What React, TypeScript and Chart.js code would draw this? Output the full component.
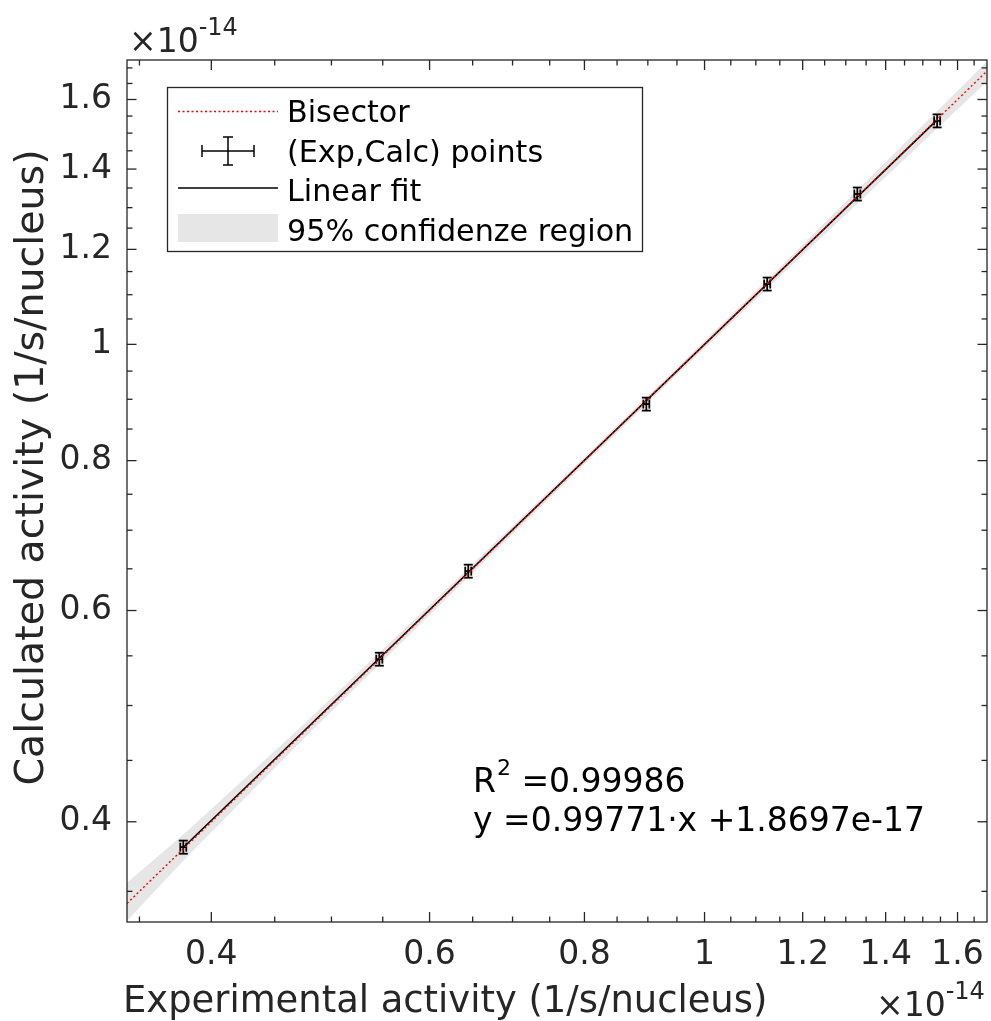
import React, { useEffect, useRef } from 'react';
import { Chart, registerables } from 'chart.js';

Chart.register(...registerables);

// ---- data (units of 1e-14 1/s/nucleus) ----
const xExp = [0.3797, 0.5465, 0.6447, 0.8975, 1.1234, 1.3282, 1.5405];
const yCalc = [0.381, 0.5465, 0.6471, 0.8917, 1.1228, 1.3346, 1.5357];
const xErr = [0.0021, 0.0031, 0.0036, 0.005, 0.0063, 0.0074, 0.0086];
const yErr = [0.0048, 0.0068, 0.0081, 0.0111, 0.014, 0.0167, 0.0192];

const fitX = [0.3797, 1.5405];
const fitY = [0.3807, 1.5388];

const bisX = [0.342, 1.69];
const bisY = [0.342, 1.69];

const bandX = [0.342, 0.38, 0.47, 0.6, 0.7, 0.8, 0.95, 1.15, 1.35, 1.69];
const bandLo = [0.3308, 0.3716, 0.4641, 0.5948, 0.6949, 0.7946, 0.9434, 1.1393, 1.3308, 1.6559];
const bandHi = [0.3559, 0.3906, 0.4776, 0.6063, 0.7057, 0.8054, 0.9561, 1.1592, 1.3671, 1.7207];

const xMajor = [0.4, 0.6, 0.8, 1, 1.2, 1.4, 1.6];
const xMajorLabels = ['0.4', '0.6', '0.8', '1', '1.2', '1.4', '1.6'];
const xMinor = [0.35, 0.45, 0.5, 0.55, 0.65, 0.7, 0.75, 0.85, 0.9, 0.95, 1.05, 1.1, 1.15, 1.25, 1.3, 1.35, 1.45, 1.5, 1.55, 1.65];
const yMajor = [0.4, 0.6, 0.8, 1, 1.2, 1.4, 1.6];
const yMajorLabels = ['0.4', '0.6', '0.8', '1', '1.2', '1.4', '1.6'];
const yMinor = [0.35, 0.45, 0.5, 0.55, 0.65, 0.7, 0.75, 0.85, 0.9, 0.95, 1.05, 1.1, 1.15, 1.25, 1.3, 1.35, 1.45, 1.5, 1.55, 1.65, 1.7];

const X_MIN = 0.342;
const X_MAX = 1.69;
const Y_MIN = 0.33;
const Y_MAX = 1.726;

const legendLabels = ['Bisector', '(Exp,Calc) points', 'Linear fit', '95% confidenze region'];
const r2Text = '=0.99986';
const fitText = 'y =0.99771\u00b7x +1.8697e-17';
const xTitle = 'Experimental activity (1/s/nucleus)';
const yTitle = 'Calculated activity (1/s/nucleus)';

const FAM = '"DejaVu Sans", "Liberation Sans", sans-serif';
const AX = '#262626';

function isMajor(list: number[], v: number) {
  return list.findIndex((m) => Math.abs(m - v) < 1e-9);
}

function line(ctx: CanvasRenderingContext2D, x1: number, y1: number, x2: number, y2: number) {
  ctx.beginPath();
  ctx.moveTo(x1, y1);
  ctx.lineTo(x2, y2);
  ctx.stroke();
}

function drawExponent(ctx: CanvasRenderingContext2D, x: number, baseline: number) {
  ctx.fillStyle = AX;
  ctx.textAlign = 'left';
  ctx.textBaseline = 'alphabetic';
  ctx.font = `33px ${FAM}`;
  const base = '\u00d710';
  ctx.fillText(base, x, baseline);
  const w = ctx.measureText(base).width;
  ctx.font = `24px ${FAM}`;
  ctx.fillText('-14', x + w, baseline - 17);
}

export default function App() {
  const ref = useRef<HTMLCanvasElement>(null);

  useEffect(() => {
    const canvas = ref.current!;

    const overlay = {
      id: 'overlay',
      afterDatasetDraw(chart: any, args: any) {
        if (args.index !== 4) return;
        const ctx: CanvasRenderingContext2D = chart.ctx;
        const xs = chart.scales.x;
        const ys = chart.scales.y;
        ctx.save();
        ctx.strokeStyle = '#000';
        ctx.lineWidth = 1.8;
        const cap = 4.5;
        xExp.forEach((x, i) => {
          const y = yCalc[i];
          const px = xs.getPixelForValue(x);
          const py = ys.getPixelForValue(y);
          const y1 = ys.getPixelForValue(y - yErr[i]);
          const y2 = ys.getPixelForValue(y + yErr[i]);
          const x1 = xs.getPixelForValue(x - xErr[i]);
          const x2 = xs.getPixelForValue(x + xErr[i]);
          line(ctx, px, y1, px, y2);
          line(ctx, px - cap, y1, px + cap, y1);
          line(ctx, px - cap, y2, px + cap, y2);
          line(ctx, x1, py, x2, py);
          line(ctx, x1, py - cap, x1, py + cap);
          line(ctx, x2, py - cap, x2, py + cap);
        });
        ctx.restore();
      },
      afterDraw(chart: any) {
        const ctx: CanvasRenderingContext2D = chart.ctx;
        const { left, right, top, bottom } = chart.chartArea;
        const xs = chart.scales.x;
        const ys = chart.scales.y;
        ctx.save();
        // ticks inside
        ctx.strokeStyle = AX;
        ctx.lineWidth = 1.3;
        [...xMajor, ...xMinor].forEach((v) => {
          const len = isMajor(xMajor, v) >= 0 ? 10 : 5.5;
          const p = xs.getPixelForValue(v);
          line(ctx, p, bottom, p, bottom - len);
          line(ctx, p, top, p, top + len);
        });
        [...yMajor, ...yMinor].forEach((v) => {
          const len = isMajor(yMajor, v) >= 0 ? 9.5 : 5.5;
          const p = ys.getPixelForValue(v);
          line(ctx, left, p, left + len, p);
          line(ctx, right, p, right - len, p);
        });
        ctx.strokeRect(left, top, right - left, bottom - top);

        // legend
        const lx = 167.5, ly = 87.5, lw = 475, lh = 164;
        ctx.fillStyle = '#fff';
        ctx.fillRect(lx, ly, lw, lh);
        ctx.strokeStyle = AX;
        ctx.lineWidth = 1.3;
        ctx.strokeRect(lx, ly, lw, lh);
        const s1 = 178, s2 = 278;
        // bisector sample
        ctx.strokeStyle = '#ff0000';
        ctx.lineWidth = 1.3;
        ctx.setLineDash([2, 2.5]);
        line(ctx, s1, 111.5, s2, 111.5);
        ctx.setLineDash([]);
        // error bar sample
        ctx.strokeStyle = '#000';
        ctx.lineWidth = 1.5;
        const cx = 228, cy = 151;
        line(ctx, 202, cy, 254, cy);
        line(ctx, 202, cy - 6, 202, cy + 6);
        line(ctx, 254, cy - 6, 254, cy + 6);
        line(ctx, cx, cy - 14, cx, cy + 14);
        line(ctx, cx - 5, cy - 14, cx + 5, cy - 14);
        line(ctx, cx - 5, cy + 14, cx + 5, cy + 14);
        // linear fit sample
        ctx.lineWidth = 1.5;
        line(ctx, s1, 188, s2, 188);
        // band sample
        ctx.fillStyle = '#e6e6e6';
        ctx.fillRect(s1, 214, s2 - s1, 28);
        // legend text
        ctx.fillStyle = '#000';
        ctx.font = `30.2px ${FAM}`;
        ctx.textAlign = 'left';
        ctx.textBaseline = 'alphabetic';
        const baselines = [121.7, 161.7, 200.5, 240.5];
        legendLabels.forEach((t, i) => ctx.fillText(t, 287, baselines[i]));

        // annotation
        ctx.font = `33px ${FAM}`;
        ctx.fillText('R', 473, 792);
        const rw = ctx.measureText('R').width;
        ctx.font = `22px ${FAM}`;
        ctx.fillText('2', 473 + rw + 1, 775);
        const tw = ctx.measureText('2').width;
        ctx.font = `33px ${FAM}`;
        ctx.fillText(' ' + r2Text, 473 + rw + 1 + tw, 792);
        ctx.fillText(fitText, 473, 831);

        // exponents
        drawExponent(ctx, 129, 52);
        drawExponent(ctx, 876, 1016);

        // axis titles
        ctx.fillStyle = AX;
        ctx.font = `36.9px ${FAM}`;
        ctx.textAlign = 'left';
        ctx.fillText(xTitle, 123, 1012);
        ctx.save();
        ctx.font = `39.5px ${FAM}`;
        ctx.translate(43, 467.5);
        ctx.rotate(-Math.PI / 2);
        ctx.textAlign = 'center';
        ctx.fillText(yTitle, 0, 0);
        ctx.restore();
        ctx.restore();
      },
    };

    const chart = new Chart(canvas, {
      type: 'scatter',
      data: {
        datasets: [
          {
            label: 'bandLo',
            data: bandX.map((x, i) => ({ x, y: bandLo[i] })),
            showLine: true,
            borderColor: 'rgba(0,0,0,0)',
            borderWidth: 0,
            pointRadius: 0,
            fill: false,
            order: 5,
          },
          {
            label: 'bandHi',
            data: bandX.map((x, i) => ({ x, y: bandHi[i] })),
            showLine: true,
            borderColor: 'rgba(0,0,0,0)',
            borderWidth: 0,
            pointRadius: 0,
            fill: '-1',
            backgroundColor: '#e6e6e6',
            order: 4,
          },
          {
            label: 'Linear fit',
            data: fitX.map((x, i) => ({ x, y: fitY[i] })),
            showLine: true,
            borderColor: '#000',
            borderWidth: 1.6,
            pointRadius: 0,
            order: 3,
          },
          {
            label: 'Bisector',
            data: bisX.map((x, i) => ({ x, y: bisY[i] })),
            showLine: true,
            borderColor: '#ff0000',
            borderWidth: 1.4,
            borderDash: [2, 2.5],
            pointRadius: 0,
            order: 1,
          },
          {
            label: '(Exp,Calc) points',
            data: xExp.map((x, i) => ({ x, y: yCalc[i] })),
            showLine: false,
            pointRadius: 0,
            order: 2,
          },
        ],
      },
      options: {
        responsive: false,
        animation: false,
        devicePixelRatio: 1,
        layout: { padding: { left: 0, right: 4, top: 60, bottom: 0 } },
        plugins: { legend: { display: false }, tooltip: { enabled: false } },
        scales: {
          x: {
            type: 'logarithmic',
            position: 'bottom',
            min: X_MIN,
            max: X_MAX,
            bounds: 'data',
            afterBuildTicks: (s: any) => {
              s.ticks = [...xMajor, ...xMinor].sort((a, b) => a - b).map((v) => ({ value: v }));
            },
            afterFit: (s: any) => {
              s.height = 99;
            },
            grid: { display: false, drawTicks: false },
            border: { display: false },
            ticks: {
              autoSkip: false,
              maxRotation: 0,
              minRotation: 0,
              padding: 14,
              color: AX,
              font: { family: FAM, size: 33 },
              callback: (v: any) => {
                const i = isMajor(xMajor, Number(v));
                return i >= 0 ? xMajorLabels[i] : '';
              },
            },
          },
          y: {
            type: 'logarithmic',
            position: 'left',
            min: Y_MIN,
            max: Y_MAX,
            bounds: 'data',
            afterBuildTicks: (s: any) => {
              s.ticks = [...yMajor, ...yMinor].sort((a, b) => a - b).map((v) => ({ value: v }));
            },
            afterFit: (s: any) => {
              s.width = 127;
            },
            grid: { display: false, drawTicks: false },
            border: { display: false },
            ticks: {
              autoSkip: false,
              padding: 15,
              color: AX,
              font: { family: FAM, size: 33 },
              callback: (v: any) => {
                const i = isMajor(yMajor, Number(v));
                return i >= 0 ? yMajorLabels[i] : '';
              },
            },
          },
        },
      },
      plugins: [overlay],
    } as any);

    return () => chart.destroy();
  }, []);

  return (
    <canvas
      ref={ref}
      width={991}
      height={1021}
      style={{ position: 'absolute', left: 0, top: 0, display: 'block', background: '#fff' }}
    />
  );
}
